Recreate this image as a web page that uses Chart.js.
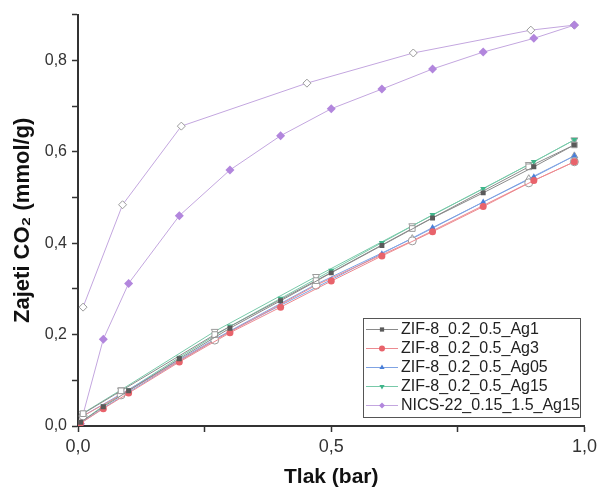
<!DOCTYPE html>
<html>
<head>
<meta charset="utf-8">
<script src="https://cdn.jsdelivr.net/npm/chart.js@4/dist/chart.umd.min.js"></script>
<style>
  html, body { margin: 0; padding: 0; background: #fff; }
  #wrap { width: 601px; height: 490px; }
</style>
</head>
<body>
<div id="wrap"><canvas id="isoChart" width="601" height="490"></canvas></div>
<script>
// pressure points (bar)
const pAds = [0.005, 0.05, 0.1, 0.2, 0.3, 0.4, 0.5, 0.6, 0.7, 0.8, 0.9, 0.98];
const pDesZif = [0.98, 0.89, 0.66, 0.47, 0.27, 0.085, 0.01];
const pDesNics = [0.98, 0.894, 0.662, 0.452, 0.204, 0.088, 0.01];

// adsorbed CO2 (mmol/g), adsorption branch
const ag1Ads = [0.008, 0.042, 0.077, 0.147, 0.214, 0.274, 0.335, 0.395, 0.455, 0.51, 0.567, 0.615];
const ag3Ads = [0.006, 0.038, 0.072, 0.14, 0.204, 0.26, 0.317, 0.372, 0.425, 0.48, 0.537, 0.578];
const ag05Ads = [0.006, 0.039, 0.074, 0.142, 0.207, 0.264, 0.32, 0.377, 0.434, 0.49, 0.545, 0.591];
const ag15Ads = [0.008, 0.044, 0.079, 0.15, 0.218, 0.279, 0.34, 0.401, 0.462, 0.519, 0.578, 0.626];
const nicsAds = [0.005, 0.19, 0.312, 0.46, 0.56, 0.635, 0.694, 0.737, 0.781, 0.818, 0.848, 0.877];

// desorption branch
const ag1Des = [0.615, 0.567, 0.432, 0.318, 0.2, 0.077, 0.027];
const ag3Des = [0.578, 0.532, 0.405, 0.308, 0.188, 0.068, 0.022];
const ag05Des = [0.591, 0.541, 0.41, 0.31, 0.19, 0.07, 0.022];
const ag15Des = [0.626, 0.572, 0.438, 0.327, 0.207, 0.079, 0.028];
const nicsDes = [0.877, 0.866, 0.816, 0.75, 0.656, 0.484, 0.26];

const yTicks = [0, 0.2, 0.4, 0.6, 0.8];
const xTicks = [0, 0.5, 1.0];

const series = [
    { label: 'ZIF-8_0.2_0.5_Ag1', ads: ag1Ads, des: ag1Des, pDes: pDesZif, color: '#5a5a5a', line: '#8a8a8a', style: 'rect', rot: 0 },
    { label: 'ZIF-8_0.2_0.5_Ag3', ads: ag3Ads, des: ag3Des, pDes: pDesZif, color: '#e8636b', line: '#ec8a90', style: 'circle', rot: 0 },
    { label: 'ZIF-8_0.2_0.5_Ag05', ads: ag05Ads, des: ag05Des, pDes: pDesZif, color: '#4a7fd8', line: '#7fa3e3', style: 'triangle', rot: 0 },
    { label: 'ZIF-8_0.2_0.5_Ag15', ads: ag15Ads, des: ag15Des, pDes: pDesZif, color: '#3fb58a', line: '#78c9a9', style: 'triangle', rot: 180 },
    { label: 'NICS-22_0.15_1.5_Ag15', ads: nicsAds, des: nicsDes, pDes: pDesNics, color: '#b286dd', line: '#c3a6df', style: 'rectRot', rot: 0 }
];

const fmt = v => v.toFixed(1).replace('.', ',');
const near = (v, list) => list.some(t => Math.abs(t - v) < 1e-6);

const datasets = [];
series.forEach(s => {
    datasets.push({
        label: s.label,
        data: pAds.map((p, i) => ({ x: p, y: s.ads[i] })),
        borderColor: s.line,
        backgroundColor: s.color,
        borderWidth: 1,
        pointStyle: s.style,
        pointRotation: s.rot,
        pointRadius: s.style === 'rectRot' ? 4.5 : 3.5,
        pointBorderColor: s.color,
        pointBorderWidth: 0,
        inLegend: true
    });
    datasets.push({
        label: s.label + ' des',
        data: s.pDes.map((p, i) => ({ x: p, y: s.des[i] })),
        borderColor: s.line,
        backgroundColor: '#ffffff',
        borderWidth: 1,
        pointStyle: s.style,
        pointRotation: s.rot,
        pointRadius: 4,
        pointBorderColor: '#9a9a9a',
        pointBorderWidth: 1,
        inLegend: false
    });
});

// legend box drawn inside the plot, bottom right
const boxLegend = {
    id: 'boxLegend',
    afterDraw(chart) {
        const ctx = chart.ctx;
        const x0 = 363, y0 = 318, w = 217, h = 99;
        ctx.save();
        ctx.fillStyle = '#fff';
        ctx.fillRect(x0, y0, w, h);
        ctx.strokeStyle = '#555';
        ctx.lineWidth = 1;
        ctx.strokeRect(x0 + 0.5, y0 + 0.5, w, h);
        ctx.font = '16px Arial, "Liberation Sans", sans-serif';
        ctx.textBaseline = 'middle';
        ctx.fillStyle = '#222';
        const items = chart.data.datasets.filter(d => d.inLegend);
        items.forEach((d, i) => {
            const y = y0 + 11 + i * 19;
            ctx.strokeStyle = d.borderColor;
            ctx.lineWidth = 1;
            ctx.beginPath();
            ctx.moveTo(x0 + 3, y + 0.5);
            ctx.lineTo(x0 + 35, y + 0.5);
            ctx.stroke();
            ctx.fillStyle = d.backgroundColor;
            ctx.strokeStyle = d.backgroundColor;
            Chart.helpers.drawPoint(ctx, {
                pointStyle: d.pointStyle,
                rotation: d.pointRotation,
                radius: 3,
                borderWidth: 0
            }, x0 + 19, y + 0.5);
            ctx.fillStyle = '#222';
            ctx.fillText(d.label, x0 + 38, y + 1);
        });
        ctx.restore();
    }
};

const ctx = document.getElementById('isoChart').getContext('2d');
const isoChart = new Chart(ctx, {
    type: 'line',
    data: { datasets: datasets },
    options: {
        responsive: false,
        animation: false,
        layout: { padding: { top: 13, right: 13, left: 0, bottom: 0 } },
        plugins: {
            legend: { display: false },
            tooltip: { enabled: false }
        },
        scales: {
            x: {
                type: 'linear',
                min: 0,
                max: 1,
                afterFit: axis => { axis.height = 64; },
                border: { color: '#333', width: 2 },
                grid: { drawOnChartArea: false, tickLength: 6, tickColor: '#333', tickWidth: 1.5 },
                ticks: {
                    stepSize: 0.25,
                    autoSkip: false,
                    maxRotation: 0,
                    padding: 4,
                    color: '#333',
                    font: { family: 'Arial, "Liberation Sans", sans-serif', size: 18 },
                    callback: v => near(v, xTicks) ? fmt(v) : ''
                },
                title: {
                    display: true,
                    text: 'Tlak (bar)',
                    color: '#111',
                    padding: { top: 13, bottom: 0 },
                    font: { family: 'Arial, "Liberation Sans", sans-serif', size: 21, weight: 'bold' }
                }
            },
            y: {
                type: 'linear',
                min: 0,
                max: 0.9,
                afterFit: axis => { axis.width = 78; },
                border: { color: '#333', width: 2 },
                grid: { drawOnChartArea: false, tickLength: 6, tickColor: '#333', tickWidth: 1.5 },
                ticks: {
                    stepSize: 0.1,
                    autoSkip: false,
                    padding: 5,
                    color: '#333',
                    font: { family: 'Arial, "Liberation Sans", sans-serif', size: 16 },
                    callback: v => near(v, yTicks) ? fmt(v) : ''
                },
                title: {
                    display: true,
                    text: 'Zajeti CO₂ (mmol/g)',
                    color: '#111',
                    padding: { top: 10, bottom: 0 },
                    font: { family: 'Arial, "Liberation Sans", sans-serif', size: 22, weight: 'bold' }
                }
            }
        }
    },
    plugins: [boxLegend]
});
</script>
</body>
</html>
